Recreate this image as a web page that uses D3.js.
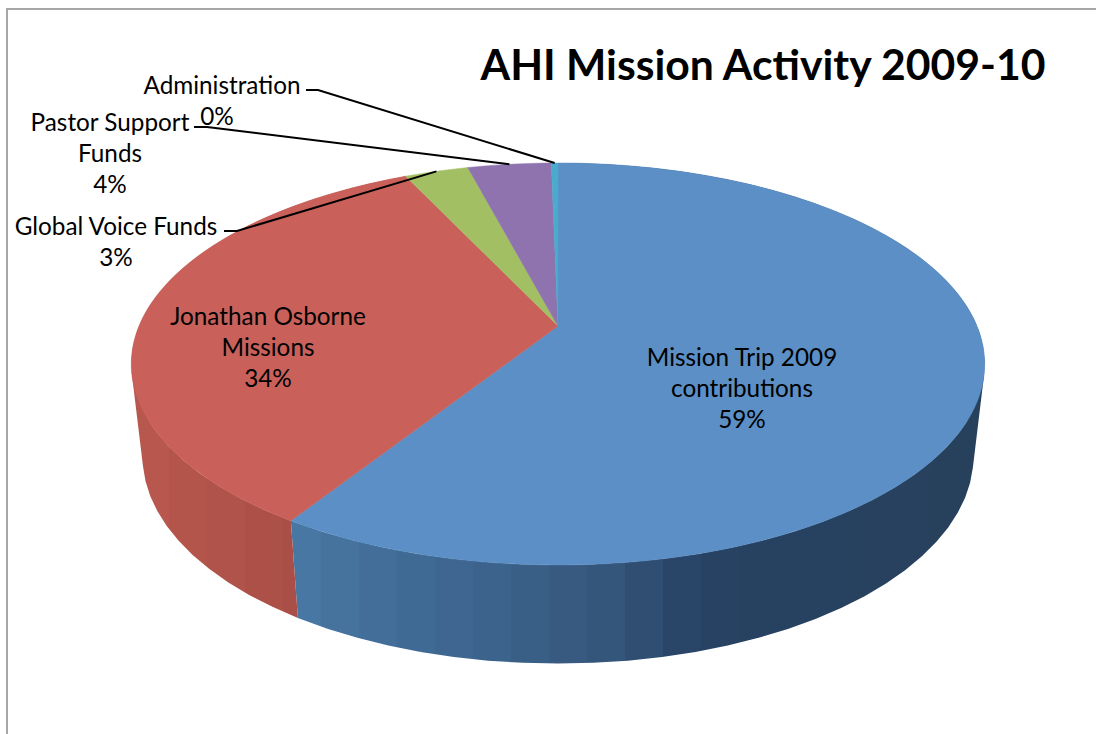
<!DOCTYPE html>
<html>
<head>
<meta charset="utf-8">
<script src="https://cdn.jsdelivr.net/npm/d3@7"></script>
<style>
  html, body { margin: 0; padding: 0; background: #fff; }
  svg { display: block; }
  text { font-family: Lato, "Open Sans", sans-serif; fill: #000; }
</style>
</head>
<body>
<svg width="1096" height="734"></svg>
<script>
const categories = ["Mission Trip 2009 contributions", "Jonathan Osborne Missions", "Global Voice Funds", "Pastor Support Funds", "Administration"];
const values = [59, 34, 2.9, 3.8, 0.3];
const labelLines = [["Mission Trip 2009", "contributions"], ["Jonathan Osborne", "Missions"], ["Global Voice Funds"], ["Pastor Support", "Funds"], ["Administration"]];
const topColors = ["#5b8fc5", "#c9605a", "#a3bf63", "#8f73ae", "#4aabcd"];
const title = "AHI Mission Activity 2009-10";

// label anchors (centre x, first line y), leader elbow for outside ones
const labelPos = [
  {x: 742, y: 357},
  {x: 268, y: 316},
  {x: 116, y: 226, from: [224, 231], elbow: [237, 231]},
  {x: 110, y: 122, from: [194, 127], elbow: [207, 127]},
  {x: 222, y: 85, from: [306, 90], elbow: [318, 90], pctX: 217}
];

const svg = d3.select("svg");

// the pie is seen in perspective: a unit circle goes through a projective map
const k = 0.189;
function project(a, plane) {
  const u = Math.sin(a), v = Math.cos(a), w = 1 + k * v;
  return [plane.cx + plane.rx * u / w, plane.cy - plane.ry * v / w];
}
const topPlane = {cx: 558, cy: 326, rx: 419, ry: 193.8};
const basePlane = {cx: 558, cy: 417, rx: 408, ry: 200};

const arcs = d3.pie().sort(null)(values);
const pct = d3.format(".0%");
const total = d3.sum(values);

// side shading runs in vertical bands across the pie
const sideBlue = d3.scaleLinear()
  .domain([-0.62, -0.37, -0.105, 0.13, 0.32, 1])
  .range(["#4a78a4", "#406b96", "#3b618a", "#35557a", "#274263", "#27415c"]);
const sideRed = d3.scaleLinear()
  .domain([-1, -0.62])
  .range(["#b9584f", "#aa4f47"]);
const sideScales = [sideBlue, sideRed];

const x0 = 131, x1 = 985, bandW = 38;
const defs = svg.append("defs");
sideScales.forEach((scale, i) => {
  const g = defs.append("linearGradient")
    .attr("id", "side" + i)
    .attr("gradientUnits", "userSpaceOnUse")
    .attr("x1", x0).attr("x2", x1).attr("y1", 0).attr("y2", 0);
  d3.range(x0, x1, bandW).forEach(x => {
    const c = scale((x + bandW / 2 - 558) / 427);
    g.append("stop").attr("offset", (x - x0) / (x1 - x0)).attr("stop-color", c);
    g.append("stop").attr("offset", Math.min(1, (x + bandW - x0) / (x1 - x0))).attr("stop-color", c);
  });
});

svg.append("path")
  .attr("d", "M7,734V9H1096")
  .attr("fill", "none")
  .attr("stroke", "#a6a6a6")
  .attr("stroke-width", 2);

// side wall, only the two big slices show there
// all facets of a slice go in one path so no seams show between them
const step = Math.PI / 45;
const line = d3.line();
function facet(a, b) {
  const q = [project(a, topPlane), project(b, topPlane), project(b, basePlane), project(a, basePlane)];
  // same winding everywhere, else overlaps near the silhouette cancel out
  return line(d3.polygonArea(q) < 0 ? q.reverse() : q) + "Z";
}
svg.append("g").selectAll("path")
  .data(arcs.slice(0, 2))
  .join("path")
  .attr("d", d => d3.range(d.startAngle, d.endAngle, step)
    .map(a => facet(a, Math.min(a + step, d.endAngle))).join(""))
  .attr("fill", (d, i) => `url(#side${i})`);

// top face
svg.append("g").selectAll("path")
  .data(arcs)
  .join("path")
  .attr("d", d => {
    const n = Math.max(2, Math.ceil((d.endAngle - d.startAngle) / 0.02));
    const rim = d3.range(n + 1).map(j => project(d.startAngle + (d.endAngle - d.startAngle) * j / n, topPlane));
    return line([[topPlane.cx, topPlane.cy], ...rim]) + "Z";
  })
  .attr("fill", (d, i) => topColors[i])
  .attr("stroke", (d, i) => topColors[i])
  .attr("stroke-width", 0.5);

// leaders
svg.append("g").selectAll("path")
  .data(arcs.filter((d, i) => labelPos[i].from))
  .join("path")
  .attr("d", d => {
    const p = labelPos[d.index];
    return line([p.from, p.elbow, project((d.startAngle + d.endAngle) / 2, topPlane)]);
  })
  .attr("fill", "none")
  .attr("stroke", "#000")
  .attr("stroke-width", 2);

// labels
const lineGap = 31;
const labels = svg.append("g").selectAll("text")
  .data(arcs)
  .join("text")
  .attr("text-anchor", "middle")
  .attr("font-size", 24.3);
labels.each(function (d, i) {
  const p = labelPos[i];
  const lines = labelLines[i];
  const t = d3.select(this);
  lines.forEach((s, j) => {
    t.append("tspan").attr("x", p.x).attr("y", p.y + j * lineGap).attr("dy", "0.35em").text(s);
  });
  t.append("tspan")
    .attr("x", p.pctX || p.x)
    .attr("y", p.y + lines.length * lineGap)
    .attr("dy", "0.35em")
    .text(pct(values[i] / total));
});

svg.append("text")
  .attr("x", 763)
  .attr("y", 65)
  .attr("dy", "0.35em")
  .attr("text-anchor", "middle")
  .attr("font-size", 42.7)
  .attr("font-weight", 700)
  .text(title);
</script>
</body>
</html>
